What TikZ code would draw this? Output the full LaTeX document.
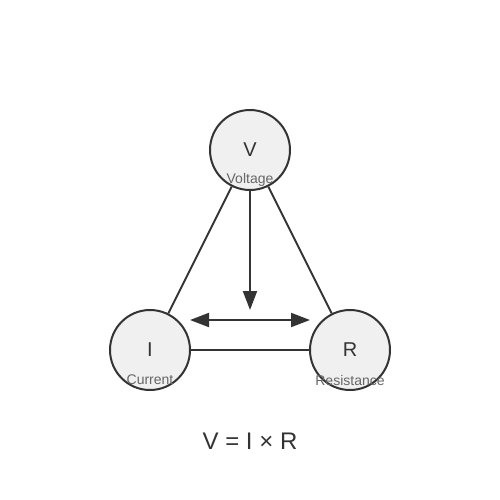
\documentclass[tikz,border=0pt]{standalone}
\usepackage{fontspec}
\setmainfont{Liberation Sans}
\usetikzlibrary{arrows.meta}
\definecolor{ink}{HTML}{333333}
\definecolor{soft}{HTML}{F0F0F0}
\definecolor{muted}{HTML}{666666}
\begin{document}
\begin{tikzpicture}[x=1pt,y=-1pt,
        quantity/.style={circle,draw=ink,fill=soft,line width=2pt,minimum size=80pt,inner sep=0pt,
            text=ink,font=\fontsize{20pt}{24pt}\selectfont},
        unitname/.style={text=muted,inner sep=0pt,font=\fontsize{14pt}{17pt}\selectfont},
        link/.style={draw=ink,line width=2pt},
        flow/.style={link,-{Triangle[length=19pt,width=14pt]}}]
            \useasboundingbox (0,0) rectangle (500,500);

            \node[quantity] (V) at (250,150) {V};
            \node[quantity] (I) at (150,350) {I};
            \node[quantity] (R) at (350,350) {R};

            \node[unitname] (Vname) at (250,180) {Voltage};
            \node[unitname] (Iname) at (150,380) {Current};
            \node[unitname] (Rname) at (350,380) {Resistance};

            \draw[link] (V) -- (I);
            \draw[link] (V) -- (R);
            \draw[link] (I) -- (R);

            \coordinate (down) at (250,310);
            \coordinate (left) at (190,320);
            \coordinate (right) at (310,320);

            \draw[flow] (V.south) -- (down);
            \draw[flow,{Triangle[length=19pt,width=14pt]}-{Triangle[length=19pt,width=14pt]}] (left) -- (right);

            \node[text=ink,font=\fontsize{24pt}{29pt}\selectfont] (law) at (250,441) {V = I × R};
        \end{tikzpicture}
\end{document}
